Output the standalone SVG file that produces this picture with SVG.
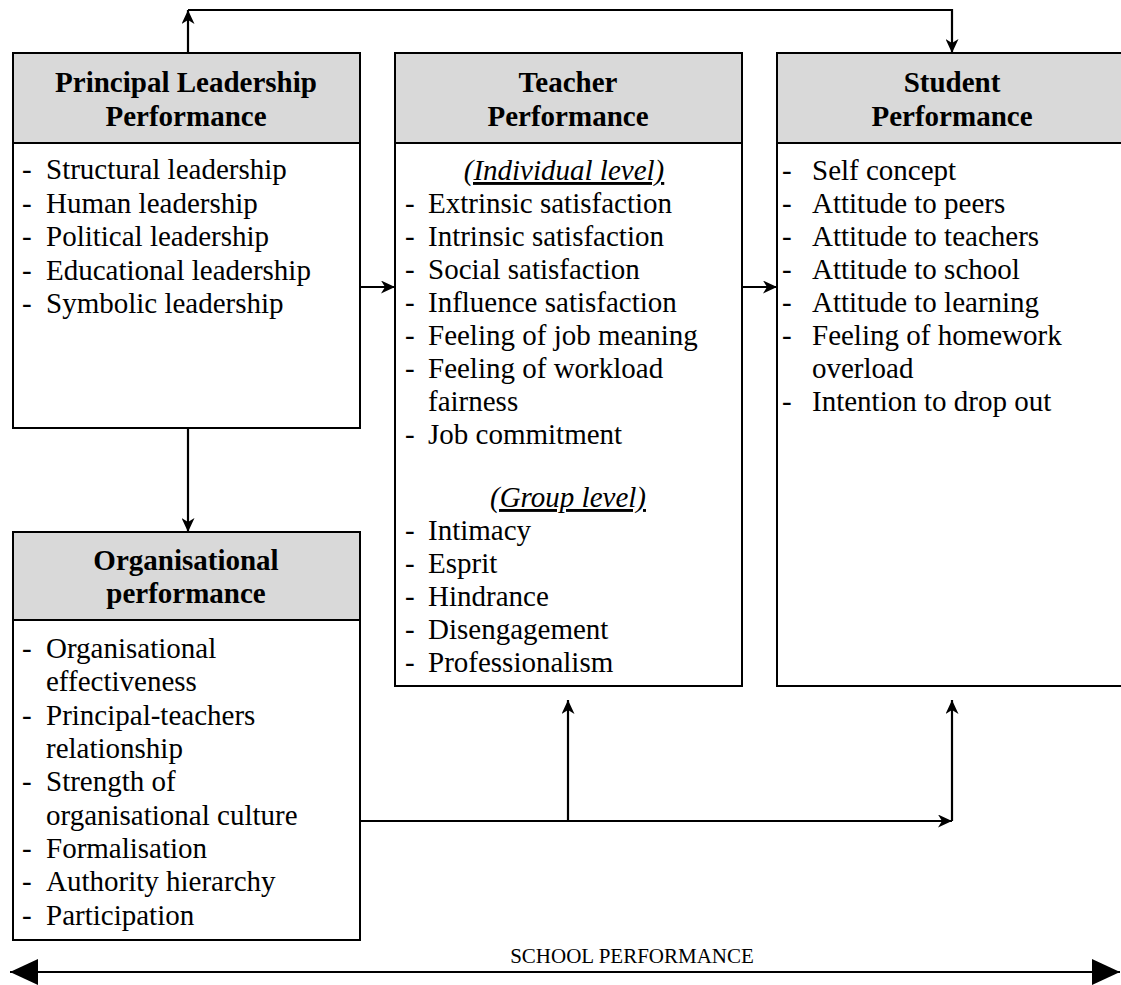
<svg xmlns="http://www.w3.org/2000/svg" width="1121" height="985" viewBox="0 0 1121 985">
<style>
text{font-family:"Liberation Serif","Times New Roman",serif;font-size:29px;fill:#000}
.h{font-weight:bold;text-anchor:middle}
.c{text-anchor:middle}
.box{fill:#fff;stroke:#000;stroke-width:2}
.hdr{fill:#d9d9d9;stroke:#000;stroke-width:2}
.ln{fill:none;stroke:#000;stroke-width:2.2}
.sm{font-size:21px}
</style>
<defs>
<marker id="a" markerUnits="userSpaceOnUse" markerWidth="15" markerHeight="13" refX="14" refY="6.5" orient="auto">
<path d="M0,0 L14,6.5 L0,13 L4,6.5 z" fill="#000"/>
</marker>
<marker id="big" markerUnits="userSpaceOnUse" markerWidth="30" markerHeight="28" refX="28" refY="13" orient="auto-start-reverse">
<path d="M0,0 L28,13 L0,26 z" fill="#000"/>
</marker>
</defs>
<rect width="1121" height="985" fill="#fff"/>

<g id="principal">
<rect class="box" x="13" y="53" width="347" height="375"/>
<rect class="hdr" x="13" y="53" width="347" height="90"/>
<text class="h" x="186" y="92">Principal Leadership</text>
<text class="h" x="186" y="126">Performance</text>
<text x="22" y="179">-</text><text x="46" y="179">Structural leadership</text>
<text x="22" y="213">-</text><text x="46" y="213">Human leadership</text>
<text x="22" y="246">-</text><text x="46" y="246">Political leadership</text>
<text x="22" y="280">-</text><text x="46" y="280">Educational leadership</text>
<text x="22" y="313">-</text><text x="46" y="313">Symbolic leadership</text>
</g>

<g id="teacher">
<rect class="box" x="395" y="53" width="347" height="633"/>
<rect class="hdr" x="395" y="53" width="347" height="90"/>
<text class="h" x="568" y="92">Teacher</text>
<text class="h" x="568" y="126">Performance</text>
<text class="c" x="564" y="180" font-style="italic" text-decoration="underline">(Individual level)</text>
<text x="405" y="213">-</text><text x="428" y="213">Extrinsic satisfaction</text>
<text x="405" y="246">-</text><text x="428" y="246">Intrinsic satisfaction</text>
<text x="405" y="279">-</text><text x="428" y="279">Social satisfaction</text>
<text x="405" y="312">-</text><text x="428" y="312">Influence satisfaction</text>
<text x="405" y="345">-</text><text x="428" y="345">Feeling of job meaning</text>
<text x="405" y="378">-</text><text x="428" y="378">Feeling of workload</text>
<text x="428" y="411">fairness</text>
<text x="405" y="444">-</text><text x="428" y="444">Job commitment</text>
<text class="c" x="568" y="507" font-style="italic" text-decoration="underline">(Group level)</text>
<text x="405" y="540">-</text><text x="428" y="540">Intimacy</text>
<text x="405" y="573">-</text><text x="428" y="573">Esprit</text>
<text x="405" y="606">-</text><text x="428" y="606">Hindrance</text>
<text x="405" y="639">-</text><text x="428" y="639">Disengagement</text>
<text x="405" y="672">-</text><text x="428" y="672">Professionalism</text>
</g>

<g id="student">
<rect class="box" x="777" y="53" width="350" height="633"/>
<rect class="hdr" x="777" y="53" width="350" height="90"/>
<text class="h" x="952" y="92">Student</text>
<text class="h" x="952" y="126">Performance</text>
<text x="782" y="180">-</text><text x="812" y="180">Self concept</text>
<text x="782" y="213">-</text><text x="812" y="213">Attitude to peers</text>
<text x="782" y="246">-</text><text x="812" y="246">Attitude to teachers</text>
<text x="782" y="279">-</text><text x="812" y="279">Attitude to school</text>
<text x="782" y="312">-</text><text x="812" y="312">Attitude to learning</text>
<text x="782" y="345">-</text><text x="812" y="345">Feeling of homework</text>
<text x="812" y="378">overload</text>
<text x="782" y="411">-</text><text x="812" y="411">Intention to drop out</text>
</g>

<g id="organisational">
<rect class="box" x="13" y="532" width="347" height="408"/>
<rect class="hdr" x="13" y="532" width="347" height="88"/>
<text class="h" x="186" y="570">Organisational</text>
<text class="h" x="186" y="603">performance</text>
<text x="22" y="658">-</text><text x="46" y="658">Organisational</text>
<text x="46" y="691">effectiveness</text>
<text x="22" y="725">-</text><text x="46" y="725">Principal-teachers</text>
<text x="46" y="758">relationship</text>
<text x="22" y="791">-</text><text x="46" y="791">Strength of</text>
<text x="46" y="825">organisational culture</text>
<text x="22" y="858">-</text><text x="46" y="858">Formalisation</text>
<text x="22" y="891">-</text><text x="46" y="891">Authority hierarchy</text>
<text x="22" y="925">-</text><text x="46" y="925">Participation</text>
</g>

<g id="connectors">
<line class="ln" x1="188" y1="53" x2="188" y2="10" marker-end="url(#a)"/>
<polyline class="ln" points="188,10 952,10 952,53" marker-end="url(#a)"/>
<line class="ln" x1="360" y1="287" x2="395" y2="287" marker-end="url(#a)"/>
<line class="ln" x1="742" y1="287" x2="777" y2="287" marker-end="url(#a)"/>
<line class="ln" x1="188" y1="428" x2="188" y2="532" marker-end="url(#a)"/>
<line class="ln" x1="360" y1="821" x2="952" y2="821" marker-end="url(#a)"/>
<line class="ln" x1="568" y1="821" x2="568" y2="700" marker-end="url(#a)"/>
<line class="ln" x1="952" y1="821" x2="952" y2="700" marker-end="url(#a)"/>
<line class="ln" x1="10" y1="972" x2="1120" y2="972" stroke-width="3" marker-start="url(#big)" marker-end="url(#big)"/>
</g>

<g id="school-performance">
<text class="c sm" x="632" y="963">SCHOOL PERFORMANCE</text>
</g>
</svg>
